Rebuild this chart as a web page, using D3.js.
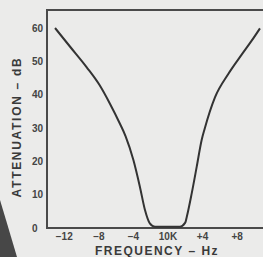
<!DOCTYPE html>
<html>
<head>
<meta charset="utf-8">
<script src="https://cdn.jsdelivr.net/npm/d3@7"></script>
<style>
  body{margin:0;background:#ebebea;}
  svg{display:block;}
</style>
</head>
<body>
<div id="chart"></div>
<script>
// frequency offset from 10K (Hz) and attenuation (dB)
var freqOffset = [-13.07,-11.3,-9.4,-7.9,-6.7,-5.6,-4.9,-4.0,-3.25,-2.66,-2.1,-1.5,0,1.4,2.0,2.2,2.75,3.33,3.9,4.25,5.44,6.98,8.53,9.69,10.65];
var attenuation = [60,54.3,48.2,42.8,37.2,31.5,27.5,20.4,12.4,5.4,1.4,0.4,0.4,0.4,1.6,3.6,10.4,18.4,26.4,29.8,39.2,46.2,52.0,56.2,59.9];

var xTicks = [-12,-8,-4,0,4,8];
var xTickLabels = ["\u221212","\u22128","\u22124","10K","+4","+8"];
var yTicks = [0,10,20,30,40,50,60];

var width = 263, height = 257;

var svg = d3.select("#chart")
  .append("svg")
  .attr("width",width)
  .attr("height",height);

// darker page corner at bottom left
svg.append("path")
  .attr("d","M0,200 L6,220 L17,257 L0,257 Z")
  .style("fill","#474747");

var x = d3.scaleLinear().domain([-14,11]).range([47,263]);
var y = d3.scaleLinear().domain([0,60]).range([228,28]);

// frame (right side runs off the page)
svg.append("path")
  .attr("d","M" + (width+2) + ",10 H" + x(-14) + " V" + y(0) + " H" + (width+2))
  .style("fill","none")
  .style("stroke","#4a4a4a")
  .style("stroke-width",2);

var pts = freqOffset.map(function(f,i){ return [f, attenuation[i]]; });

var line = d3.line()
  .x(function(d){ return x(d[0]); })
  .y(function(d){ return y(d[1]); })
  .curve(d3.curveMonotoneX);

svg.append("path")
  .datum(pts)
  .attr("d",line)
  .style("fill","none")
  .style("stroke","#333")
  .style("stroke-width",2)
  .style("stroke-linejoin","round");

// y tick labels
svg.selectAll("text.ytick")
  .data(yTicks)
  .enter()
  .append("text")
  .attr("class","ytick")
  .attr("x",32)
  .attr("y",function(d){ return y(d) + 3.5; })
  .style("font-family","'Liberation Sans', Arial, sans-serif")
  .style("font-weight","bold")
  .style("font-size","10px")
  .style("fill","#444")
  .text(function(d){ return d; });

// x tick labels
svg.selectAll("text.xtick")
  .data(xTicks)
  .enter()
  .append("text")
  .attr("class","xtick")
  .attr("x",function(d){ return x(d); })
  .attr("y",240)
  .attr("text-anchor","middle")
  .style("font-family","'Liberation Sans', Arial, sans-serif")
  .style("font-weight","bold")
  .style("font-size","10px")
  .style("fill","#444")
  .text(function(d,i){ return xTickLabels[i]; });

svg.append("text")
  .attr("x",157)
  .attr("y",255)
  .attr("text-anchor","middle")
  .style("font-family","'Liberation Sans', Arial, sans-serif")
  .style("font-weight","bold")
  .style("font-size","12px")
  .style("letter-spacing","1.5px")
  .style("fill","#3a3a3a")
  .text("FREQUENCY \u2013 Hz");

svg.append("text")
  .attr("transform","translate(21,127) rotate(-90)")
  .attr("text-anchor","middle")
  .style("font-family","'Liberation Sans', Arial, sans-serif")
  .style("font-weight","bold")
  .style("font-size","12px")
  .style("letter-spacing","1.7px")
  .style("fill","#3a3a3a")
  .text("ATTENUATION \u2013 dB");
</script>
</body>
</html>
